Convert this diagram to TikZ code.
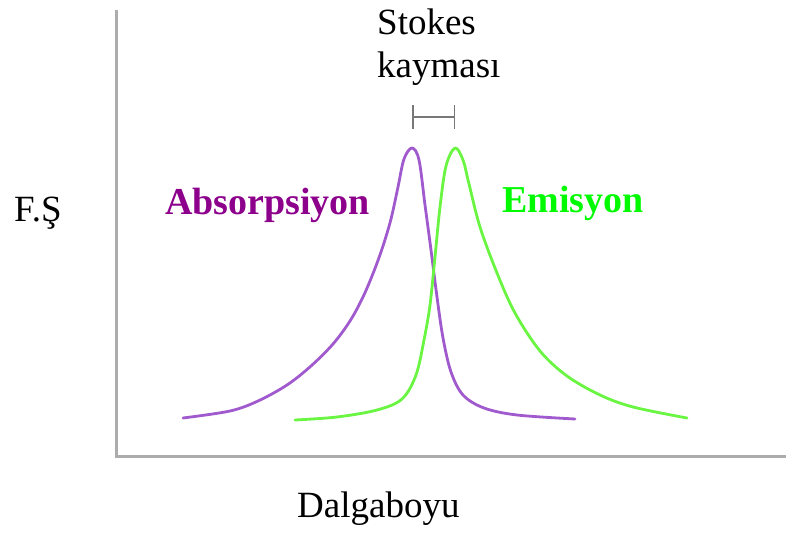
\documentclass[tikz,border=0pt]{standalone}
\usepackage{fontspec}
\setmainfont{Liberation Serif}
\usetikzlibrary{arrows.meta}
\definecolor{abstext}{RGB}{140,0,140}
\definecolor{abscurve}{RGB}{160,90,205}
\definecolor{emtext}{RGB}{0,250,0}
\definecolor{emcurve}{RGB}{105,245,65}
\definecolor{axisgrey}{RGB}{172,172,172}
\definecolor{shiftgrey}{RGB}{120,120,120}
\tikzset{
  lbl/.style={anchor=base west, inner sep=0pt, font=\fontsize{37pt}{44pt}\selectfont},
  boldlbl/.style={lbl, font=\fontsize{38pt}{44pt}\selectfont\bfseries},
  axisline/.style={draw=axisgrey, line width=3pt},
  spectrum/.style={line width=2.8pt, line cap=round, line join=round},
}
\begin{document}
\begin{tikzpicture}[x=1pt, y=-1pt]
\useasboundingbox (0,0) rectangle (786,534);
% axes
\coordinate (ytop) at (116.5,10);
\coordinate (origin) at (116.5,456);
\coordinate (xend) at (786,456);
\draw[axisline] (ytop) -- (origin) -- (xend);
% absorption spectrum
\draw[spectrum, abscurve] plot[smooth, tension=0.55] coordinates {
 (183,418) (230,411) (258,401) (287,385) (311,366) (333,344) (350,321)
 (363,297) (374,271) (383,246) (391,219) (398,187) (404,159) (412,148)
 (419,160) (425,205) (431,250) (437,297) (443,338) (451,372) (463,395)
 (484,408) (517,415) (575,419)};
% emission spectrum
\draw[spectrum, emcurve] plot[smooth, tension=0.55] coordinates {
 (295,420) (337,417) (377,410) (402,399) (416,375) (424,340) (430,305)
 (435,257) (440,207) (446,166) (455,148) (463,160) (469,184) (480,227)
 (497,273) (515,313) (540,351) (567,376) (600,395) (633,407) (687,418)};
% Stokes shift marker
\coordinate (shiftL) at (412,117);
\coordinate (shiftR) at (455,117);
\draw[shiftgrey, line width=2pt, {Bar[width=24pt,line width=1.5pt]}-{Bar[width=24pt,line width=1.5pt]}] (shiftL) -- (shiftR);
% labels
\node[lbl] (stokes) at (377,35) {Stokes};
\node[lbl] (kaymasi) at (377,78) {kayması};
\node[lbl] (fs) at (14,222) {F.Ş};
\node[boldlbl, text=abstext] (abs) at (165,215) {Absorpsiyon};
\node[boldlbl, text=emtext] (em) at (502,213) {Emisyon};
\node[lbl] (dalga) at (297,517) {Dalgaboyu};
\end{tikzpicture}
\end{document}
